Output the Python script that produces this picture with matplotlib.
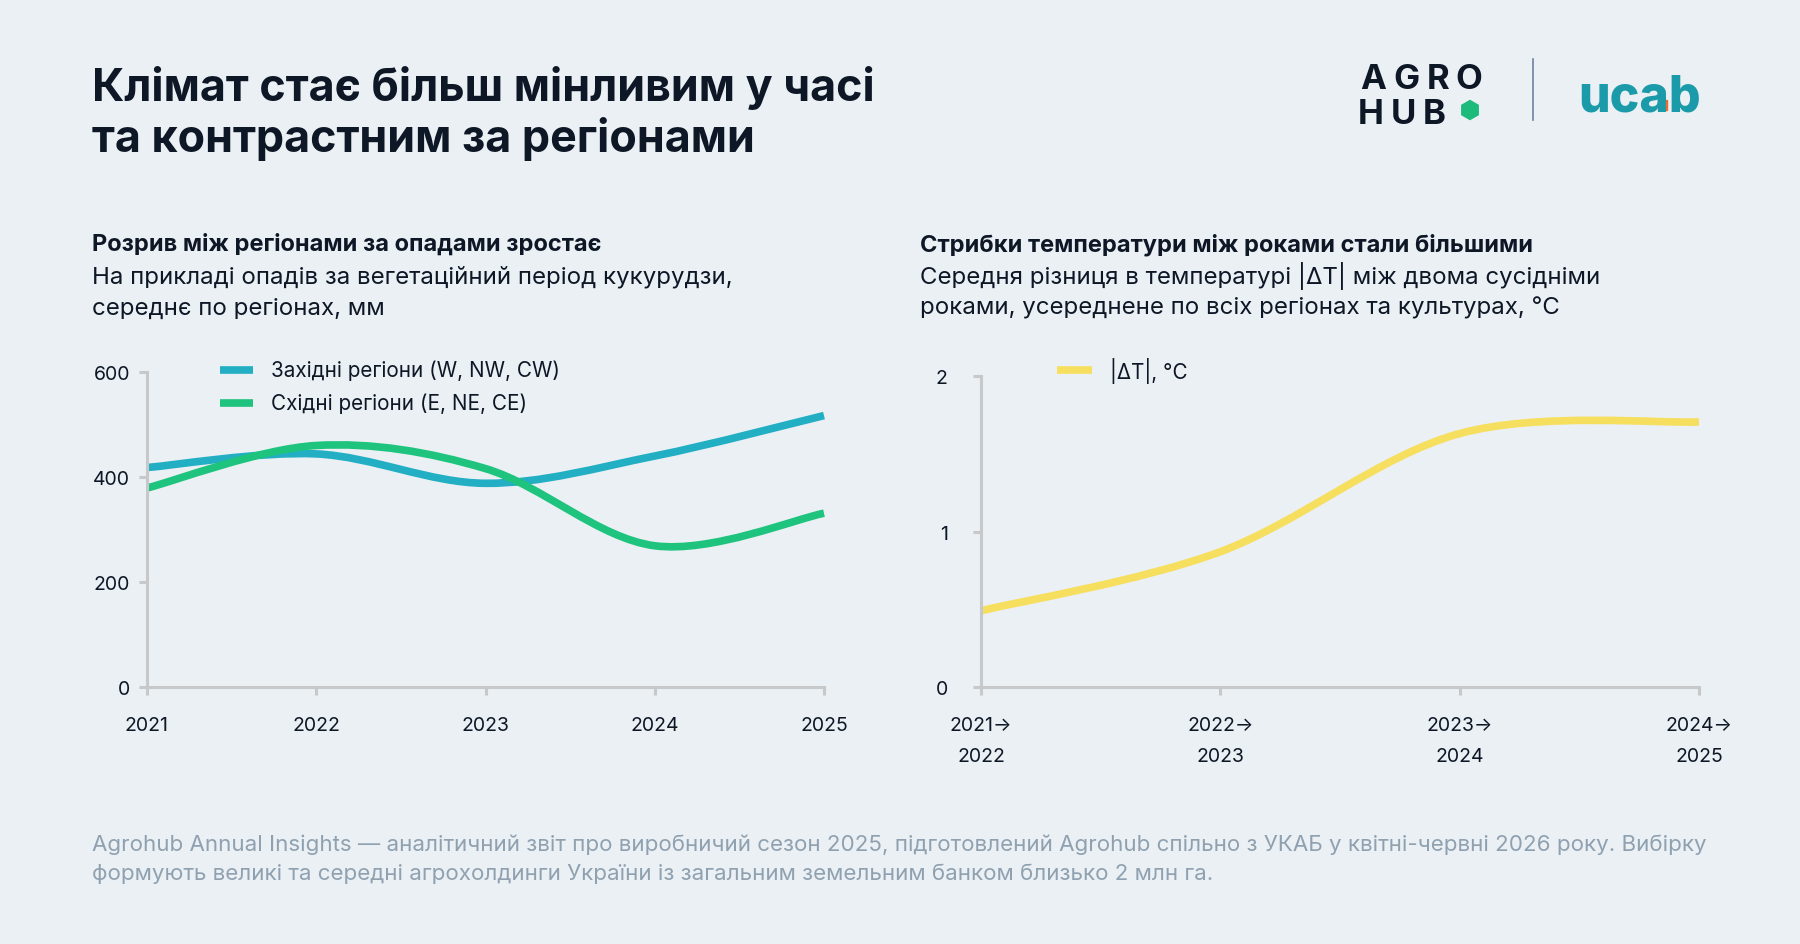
"""
Клімат: опади по регіонах та стрибки температури між роками
"""

import matplotlib
matplotlib.use("Agg")
import matplotlib.pyplot as plt
from matplotlib.path import Path
from matplotlib.patches import PathPatch, Rectangle, RegularPolygon
from matplotlib.lines import Line2D
from matplotlib.transforms import Affine2D

# дані
years = [2021, 2022, 2023, 2024, 2025]
west_rain = [418, 444, 388, 440, 517]
east_rain = [379, 460, 416, 269, 331]
rain_ticks = [0, 200, 400, 600]

dt_labels = ['2021→\n2022', '2022→\n2023', '2023→\n2024', '2024→\n2025']
dt_values = [0.49, 0.87, 1.63, 1.705]
dt_ticks = [0, 1, 2]

BG = '#EBF0F4'
DARK = '#0E1726'
AXIS = '#C6C8CA'
WEST_C = '#22AFC3'
EAST_C = '#1EC47D'
YELLOW = '#F6DF5E'
FOOT = '#8FA1B0'

W, H = 1800, 945
plt.rcParams['font.family'] = ['Inter', 'DejaVu Sans']


def fx(x):
    return x / W


def fy(y):
    return 1 - y / H


def smooth_path(xs, ys):
    """catmull-rom -> безьє, вузли = точки даних"""
    pts = list(zip(xs, ys))
    verts = [pts[0]]
    codes = [Path.MOVETO]
    n = len(pts)
    for i in range(n - 1):
        p0 = pts[max(i - 1, 0)]
        p1 = pts[i]
        p2 = pts[i + 1]
        p3 = pts[min(i + 2, n - 1)]
        c1 = (p1[0] + (p2[0] - p0[0]) / 6, p1[1] + (p2[1] - p0[1]) / 6)
        c2 = (p2[0] - (p3[0] - p1[0]) / 6, p2[1] - (p3[1] - p1[1]) / 6)
        verts += [c1, c2, p2]
        codes += [Path.CURVE4] * 3
    return Path(verts, codes)


def draw_curve(ax, xs, ys, color):
    patch = PathPatch(smooth_path(xs, ys), fill=False, edgecolor=color,
                      linewidth=5.5, capstyle='butt', joinstyle='round',
                      transform=ax.transData, clip_on=False)
    ax.add_patch(patch)


def style_axes(ax, ypad):
    for s in ['top', 'right']:
        ax.spines[s].set_visible(False)
    for s in ['left', 'bottom']:
        ax.spines[s].set_color(AXIS)
        ax.spines[s].set_linewidth(2.2)
    ax.set_facecolor('none')
    ax.tick_params(axis='both', colors=AXIS, width=2.2, length=6,
                   labelcolor=DARK, labelsize=14)
    ax.tick_params(axis='y', pad=ypad)
    ax.tick_params(axis='x', pad=15)


fig = plt.figure(figsize=(W / 100, H / 100), dpi=100, facecolor=BG)
px = Affine2D().scale(1 / W, -1 / H).translate(0, 1) + fig.transFigure

# заголовок
fig.text(fx(92), fy(101), 'Клімат стає більш мінливим у часі', fontsize=32.3,
         fontweight='bold', color=DARK, va='baseline')
fig.text(fx(92), fy(152), 'та контрастним за регіонами', fontsize=32.3,
         fontweight='bold', color=DARK, va='baseline')

# логотипи
for ch, cx in zip('AGRO', [1373, 1406, 1438, 1469]):
    fig.text(fx(cx), fy(89), ch, fontsize=25, fontweight='bold', color=DARK,
             ha='center', va='baseline')
for ch, cx in zip('HUB', [1371, 1403, 1434]):
    fig.text(fx(cx), fy(124), ch, fontsize=25, fontweight='bold', color=DARK,
             ha='center', va='baseline')
fig.add_artist(RegularPolygon((1470, 111), 6, radius=9.5, color='#1DBB7B',
                              transform=px))
fig.add_artist(Line2D([1533, 1533], [60, 121], color='#6F82A0', lw=1.2,
                      transform=px))
fig.text(fx(1578), fy(111), 'ucab', fontsize=36, fontweight='heavy',
         color='#1B9BA9', va='baseline')
fig.add_artist(Rectangle((1658, 101), 9, 10, color='#F26A2E', transform=px))

# підзаголовки
fig.text(fx(92), fy(251), 'Розрив між регіонами за опадами зростає', fontsize=17,
         fontweight='bold', color=DARK, va='baseline')
fig.text(fx(92), fy(284), 'На прикладі опадів за вегетаційний період кукурудзи,',
         fontsize=17.3, color=DARK, va='baseline')
fig.text(fx(92), fy(315), 'середнє по регіонах, мм', fontsize=17.3, color=DARK,
         va='baseline')

fig.text(fx(920), fy(251), 'Стрибки температури між роками стали більшими',
         fontsize=17, fontweight='bold', color=DARK, va='baseline')
fig.text(fx(920), fy(284), 'Середня різниця в температурі |ΔT| між двома сусідніми',
         fontsize=17.3, color=DARK, va='baseline')
fig.text(fx(920), fy(315), 'роками, усереднене по всіх регіонах та культурах, °C',
         fontsize=17.3, color=DARK, va='baseline')

# ліва діаграма
ax1 = fig.add_axes([fx(147), fy(688), (824 - 147) / W, (688 - 373) / H])
style_axes(ax1, 6)
ax1.set_xlim(years[0], years[-1])
ax1.set_ylim(0, 600)
ax1.set_xticks(years)
ax1.set_xticklabels([str(y) for y in years])
ax1.set_yticks(rain_ticks)
draw_curve(ax1, years, west_rain, WEST_C)
draw_curve(ax1, years, east_rain, EAST_C)

# легенда ліва
for yy, col, lab in [(371, WEST_C, 'Західні регіони (W, NW, CW)'),
                     (404, EAST_C, 'Східні регіони (E, NE, CE)')]:
    fig.add_artist(Line2D([220, 253], [yy, yy], color=col, lw=5.5,
                          solid_capstyle='butt', transform=px))
    fig.text(fx(271), fy(yy), lab, fontsize=14.9, color=DARK, va='center')

# права діаграма
ax2 = fig.add_axes([fx(981), fy(688), (1699 - 981) / W, (688 - 377) / H])
style_axes(ax2, 18)
xs = list(range(len(dt_values)))
ax2.set_xlim(0, len(dt_values) - 1)
ax2.set_ylim(0, 2)
ax2.set_xticks(xs)
ax2.set_xticklabels(dt_labels, linespacing=1.9)
ax2.set_yticks(dt_ticks)
draw_curve(ax2, xs, dt_values, YELLOW)

fig.add_artist(Line2D([1057, 1092], [371, 371], color=YELLOW, lw=5.5,
                      solid_capstyle='butt', transform=px))
fig.text(fx(1110), fy(371), '|ΔT|, °C', fontsize=14.9, color=DARK, va='center')

# підвал
fig.text(fx(92), fy(851),
         'Agrohub Annual Insights — аналітичний звіт про виробничий сезон 2025, '
         'підготовлений Agrohub спільно з УКАБ у квітні-червні 2026 року. Вибірку',
         fontsize=16.1, color=FOOT, va='baseline')
fig.text(fx(92), fy(880),
         'формують великі та середні агрохолдинги України із загальним земельним '
         'банком близько 2 млн га.',
         fontsize=16.1, color=FOOT, va='baseline')

fig.savefig('out.png', dpi=100, facecolor=BG)
